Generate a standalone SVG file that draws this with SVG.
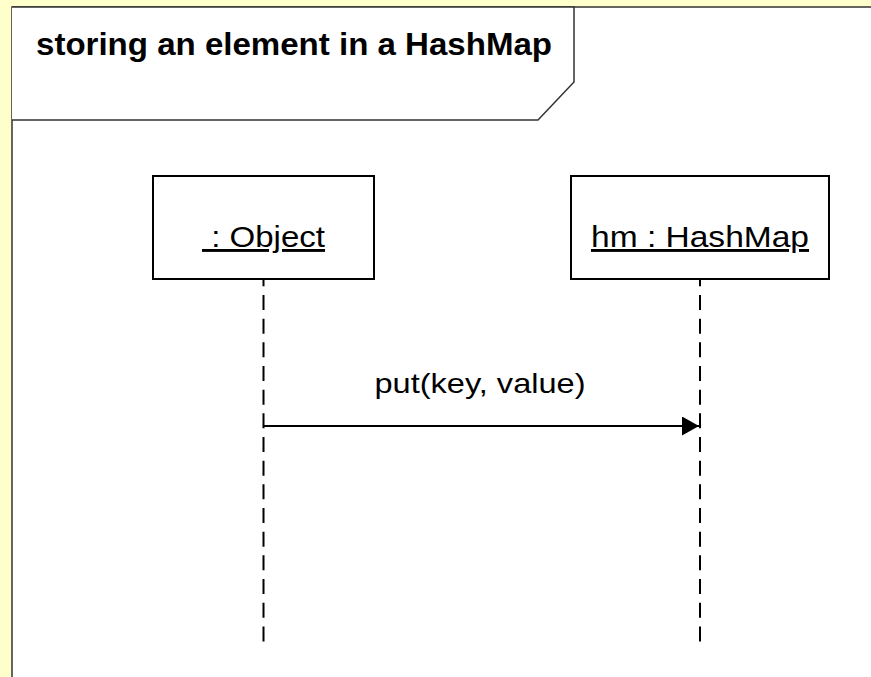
<svg xmlns="http://www.w3.org/2000/svg" width="871" height="677" viewBox="0 0 871 677">
<style>
.frame{fill:#ffffff;stroke:#333333;stroke-width:1.5}
.box{fill:#ffffff;stroke:#000000;stroke-width:2}
.life{fill:none;stroke:#000000;stroke-width:2;stroke-dasharray:15 8.67;stroke-dashoffset:8.67}
.msg{fill:none;stroke:#000000;stroke-width:2}
.txt{font-family:"Liberation Sans",Arial,Helvetica,sans-serif;fill:#000000}
.title{font-weight:bold;font-size:31px}
.name{font-size:29px;text-decoration:underline;text-anchor:middle}
.label{font-size:28px;text-anchor:middle}
</style>
<defs>
<marker id="arrow" markerUnits="userSpaceOnUse" viewBox="0 0 17 19" refX="17" refY="9.5" markerWidth="17" markerHeight="19" orient="auto">
<path d="M0,0 L17,9.5 L0,19 Z" fill="#000000"/>
</marker>
</defs>
<rect x="0" y="0" width="871" height="677" fill="#ffffcc"/>
<g id="frame">
<rect class="frame" x="12" y="7" width="880" height="700"/>
<path class="frame" d="M12,7 H574 V82 L538,120 H12"/>
<text class="txt title" x="36" y="55" textLength="516" lengthAdjust="spacingAndGlyphs">storing an element in a HashMap</text>
</g>
<g id="connectors">
<path class="life" d="M263.5,280 V642"/>
<path class="life" d="M700,280 V642"/>
<path class="msg" d="M263.5,426 H699" marker-end="url(#arrow)"/>
<text class="txt label" x="480" y="393" textLength="211" lengthAdjust="spacingAndGlyphs">put(key, value)</text>
</g>
<g id="object">
<rect class="box" x="153" y="176" width="221" height="103"/>
<text class="txt name" x="263.5" y="247" xml:space="preserve" textLength="123" lengthAdjust="spacingAndGlyphs"> : Object</text>
</g>
<g id="hashmap">
<rect class="box" x="571" y="176" width="258" height="103"/>
<text class="txt name" x="700" y="247" textLength="218" lengthAdjust="spacingAndGlyphs">hm : HashMap</text>
</g>
</svg>
